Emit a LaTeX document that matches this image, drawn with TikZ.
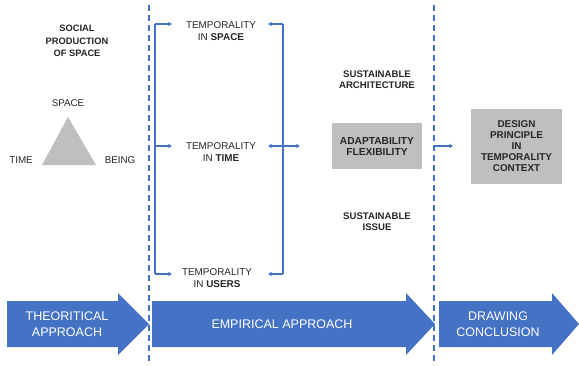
\documentclass[tikz,border=0pt]{standalone}
\usepackage{fontspec}
\setmainfont{Liberation Sans}
\usetikzlibrary{arrows.meta}
\definecolor{pblue}{HTML}{4472C4}
\definecolor{pgray}{HTML}{BFBFBF}
\definecolor{ptext}{HTML}{262626}
\begin{document}
\begin{tikzpicture}[x=1pt,y=-1pt,
  conn/.style={draw=pblue,line width=1.1pt},
  tip/.style={-{Stealth[length=4pt,width=4.5pt]}},
  tempo/.style={align=center,text=ptext,font=\fontsize{9.9}{11.5}\selectfont,inner sep=0pt},
  boldlbl/.style={align=center,text=ptext,font=\fontsize{9.6}{11.2}\selectfont\bfseries,inner sep=0pt},
  plain/.style={text=ptext,font=\fontsize{9.8}{11.5}\selectfont,inner sep=0pt},
  graybox/.style={fill=pgray,draw=none,align=center,text=ptext,font=\fontsize{10.2}{11}\selectfont\bfseries},
  bigarrow/.style={fill=pblue,draw=none},
  arrowtxt/.style={align=center,text=white,font=\fontsize{12.5}{16}\selectfont,inner sep=0pt},
  divider/.style={draw=pblue,line width=1.2pt,dash pattern=on 6pt off 4pt}]
\useasboundingbox (0,0) rectangle (579,365);

% dividers
\coordinate (d1t) at (149,5); \coordinate (d1b) at (149,365);
\coordinate (d2t) at (434,5); \coordinate (d2b) at (434,365);
\draw[divider] (d1t) -- (d1b);
\draw[divider] (d2t) -- (d2b);

% left column
\node[boldlbl,font=\fontsize{9.3}{12.5}\selectfont\bfseries] (spos) at (77,41) {SOCIAL\\PRODUCTION\\OF SPACE};
\node[plain] (space) at (68,103) {SPACE};
\node[plain] (time) at (21,160) {TIME};
\node[plain] (being) at (120,160) {BEING};
\fill[pgray] (68,117) -- (96,165) -- (42,165) -- cycle;

% temporality nodes
\node[tempo] (tspace) at (221,31) {TEMPORALITY\\IN \textbf{SPACE}};
\node[tempo] (ttime) at (221,152) {TEMPORALITY\\IN \textbf{TIME}};
\node[tempo] (tusers) at (217,278) {TEMPORALITY\\IN \textbf{USERS}};

% bracket coordinates
\coordinate (lt) at (155,24); \coordinate (lm) at (155,146); \coordinate (lb) at (155,274);
\coordinate (rt) at (283,24); \coordinate (rm) at (283,146); \coordinate (rb) at (283,274);
\coordinate (as) at (172,24); \coordinate (am) at (172,146); \coordinate (au) at (172,274);
\coordinate (bs) at (268,24); \coordinate (bm) at (268,146); \coordinate (bu) at (268,274);
\coordinate (rout) at (300,146);

\draw[conn] (lt) -- (lb);
\draw[conn,tip] (lt) -- (as);
\draw[conn,tip] (lm) -- (am);
\draw[conn,tip] (lb) -- (au);
\draw[conn] (rt) -- (rb);
\draw[conn,tip] (rt) -- (bs);
\draw[conn,tip] (rb) -- (bu);
\draw[conn,{Stealth[length=4pt,width=4.5pt]}-{Stealth[length=4pt,width=4.5pt]}] (bm) -- (rout);

% sustainable
\node[boldlbl] (sarch) at (377,80) {SUSTAINABLE\\ARCHITECTURE};
\node[boldlbl] (sissue) at (377,222) {SUSTAINABLE\\ISSUE};
\node[graybox,minimum width=90pt,minimum height=46pt] (adapt) at (377,146) {ADAPTABILITY\\FLEXIBILITY};

% right
\coordinate (d2m) at (435,146); \coordinate (dtip) at (453,146);
\draw[conn,tip] (d2m) -- (dtip);
\node[graybox,minimum width=91pt,minimum height=75pt,font=\fontsize{9.9}{10.9}\selectfont\bfseries] (design) at (516.5,146) {DESIGN\\PRINCIPLE\\IN\\TEMPORALITY\\CONTEXT};

% big arrows
\fill[bigarrow] (7,301) -- (118,301) -- (118,293) -- (149,324) -- (118,355) -- (118,347) -- (7,347) -- cycle;
\fill[bigarrow] (152,301) -- (406,301) -- (406,293) -- (435,324) -- (406,355) -- (406,347) -- (152,347) -- cycle;
\fill[bigarrow] (439,301) -- (552,301) -- (552,293) -- (579,324) -- (552,355) -- (552,347) -- (439,347) -- cycle;
\node[arrowtxt] (theo) at (67,324) {THEORITICAL\\APPROACH};
\node[arrowtxt] (emp) at (282,324) {EMPIRICAL APPROACH};
\node[arrowtxt] (draw) at (498,324) {DRAWING\\CONCLUSION};
\end{tikzpicture}
\end{document}
